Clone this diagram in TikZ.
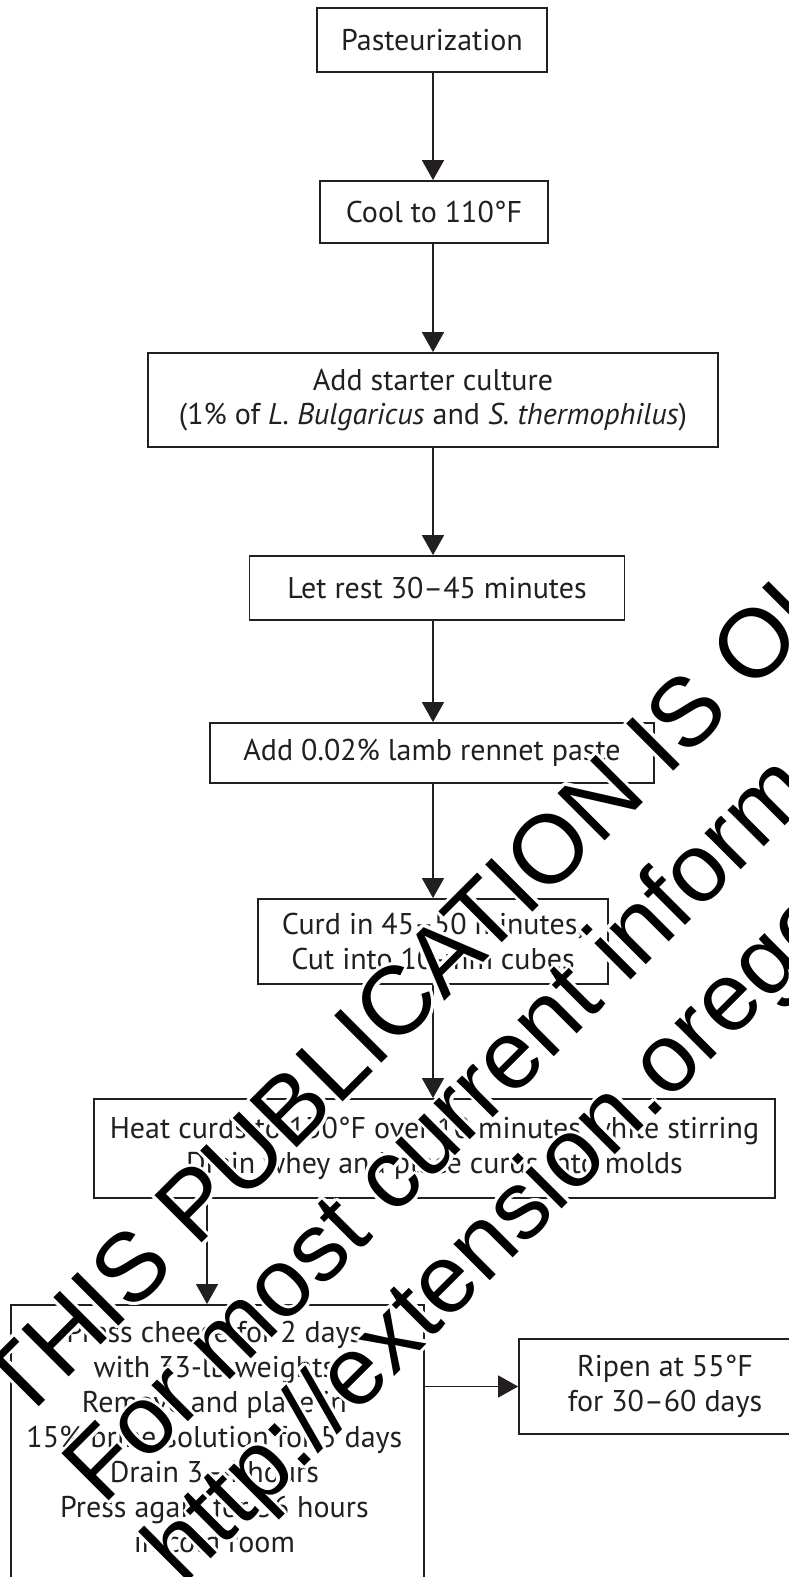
\documentclass[tikz,border=0pt]{standalone}
\usepackage{fontspec}
\setmainfont{PT Sans}
\newfontfamily\stampfont{Liberation Sans}
\usetikzlibrary{arrows.meta,calc}
\definecolor{ink}{HTML}{231F20}

\begin{document}
\begin{tikzpicture}[x=1pt,y=-1pt,
  stepbox/.style={draw=ink, line width=1.8pt, text=ink, align=center,
    inner sep=0pt, font=\fontsize{30}{34.5}\selectfont},
  steptext/.style={text=ink, align=center, inner sep=0pt,
    font=\fontsize{30}{35}\selectfont},
  flow/.style={draw=ink, line width=1.5pt, -{Triangle[length=20pt,width=22pt]}},
  stamp/.style={font=\fontsize{97}{97}\stampfont, rotate=45,
    anchor=base west, inner sep=0pt},
]
\useasboundingbox (0,0) rectangle (789,1577);
\clip (0,0) rectangle (789,1577);
\fill[white] (0,0) rectangle (789,1577);

% main column of the process
\coordinate (ax) at (433,0);
\coordinate (hp) at (207,0);

\node[stepbox, minimum width=230pt, minimum height=64pt] (past) at (432,40) {Pasteurization};
\node[stepbox, minimum width=228pt, minimum height=62pt] (cool) at (434,212) {Cool to 110°F};
\node[stepbox, minimum width=570pt, minimum height=94pt] (start) at (433,400)
  {Add starter culture\\(1\% of \textit{L. Bulgaricus} and \textit{S. thermophilus})};
\node[stepbox, minimum width=375pt, minimum height=64pt] (rest) at (437,588) {Let rest 30–45 minutes};
\node[stepbox, minimum width=444pt, minimum height=60pt] (rennet) at (432,753) {Add 0.02\% lamb rennet paste};
\node[stepbox, minimum width=350pt, minimum height=85pt] (curd) at (433,941.5)
  {Curd in 45–50 minutes,\\Cut into 10-mm cubes};
\node[stepbox, minimum width=681pt, minimum height=99pt] (heat) at (434.5,1148.5)
  {Heat curds to 130°F over 10 minutes while stirring\\Drain whey and place curds into molds};

% pressing box runs past the lower edge
\node[stepbox, anchor=north west, minimum width=413pt, minimum height=330pt] (press) at (10,1304) {};
\node[steptext, anchor=north] (presstext) at ([xshift=-3pt,yshift=-17pt]press.north)
  {Press cheese for 2 days\\with 33-lb weights\\Remove and place in\\15\% brine solution for 5 days\\Drain 3–4 hours\\Press again for 36 hours\\in cold room};

\node[stepbox, minimum width=292pt, minimum height=95pt] (ripen) at (665,1386.5)
  {Ripen at 55°F\\for 30–60 days};

\draw[flow] (past.south -| ax) -- (cool.north -| ax);
\draw[flow] (cool.south -| ax) -- (start.north -| ax);
\draw[flow] (start.south -| ax) -- (rest.north -| ax);
\draw[flow] (rest.south -| ax) -- (rennet.north -| ax);
\draw[flow] (rennet.south -| ax) -- (curd.north -| ax);
\draw[flow] (curd.south -| ax) -- (heat.north -| ax);
\draw[flow] (heat.south -| hp) -- (press.north -| hp);
\draw[flow] (press.east |- ripen.west) -- (ripen.west);

% archive stamp: white halo first, black lettering on top
\coordinate (w1) at (21,1424.3);
\coordinate (w2) at (103.8,1507);
\coordinate (w3) at (183.7,1586.9);
\foreach \a in {0,30,...,330}{
  \node[stamp, text=white] (h1-\a) at ([shift={(\a:3.2)}]w1) {THIS PUBLICATION IS OUT OF DATE.};
  \node[stamp, text=white] (h2-\a) at ([shift={(\a:3.2)}]w2) {For most current information:};
  \node[stamp, text=white] (h3-\a) at ([shift={(\a:3.2)}]w3) {http://extension.oregonstate.edu/catalog};
}
\node[stamp] (l1) at (w1) {THIS PUBLICATION IS OUT OF DATE.};
\node[stamp] (l2) at (w2) {For most current information:};
\node[stamp] (l3) at (w3) {http://extension.oregonstate.edu/catalog};
\end{tikzpicture}
\end{document}
